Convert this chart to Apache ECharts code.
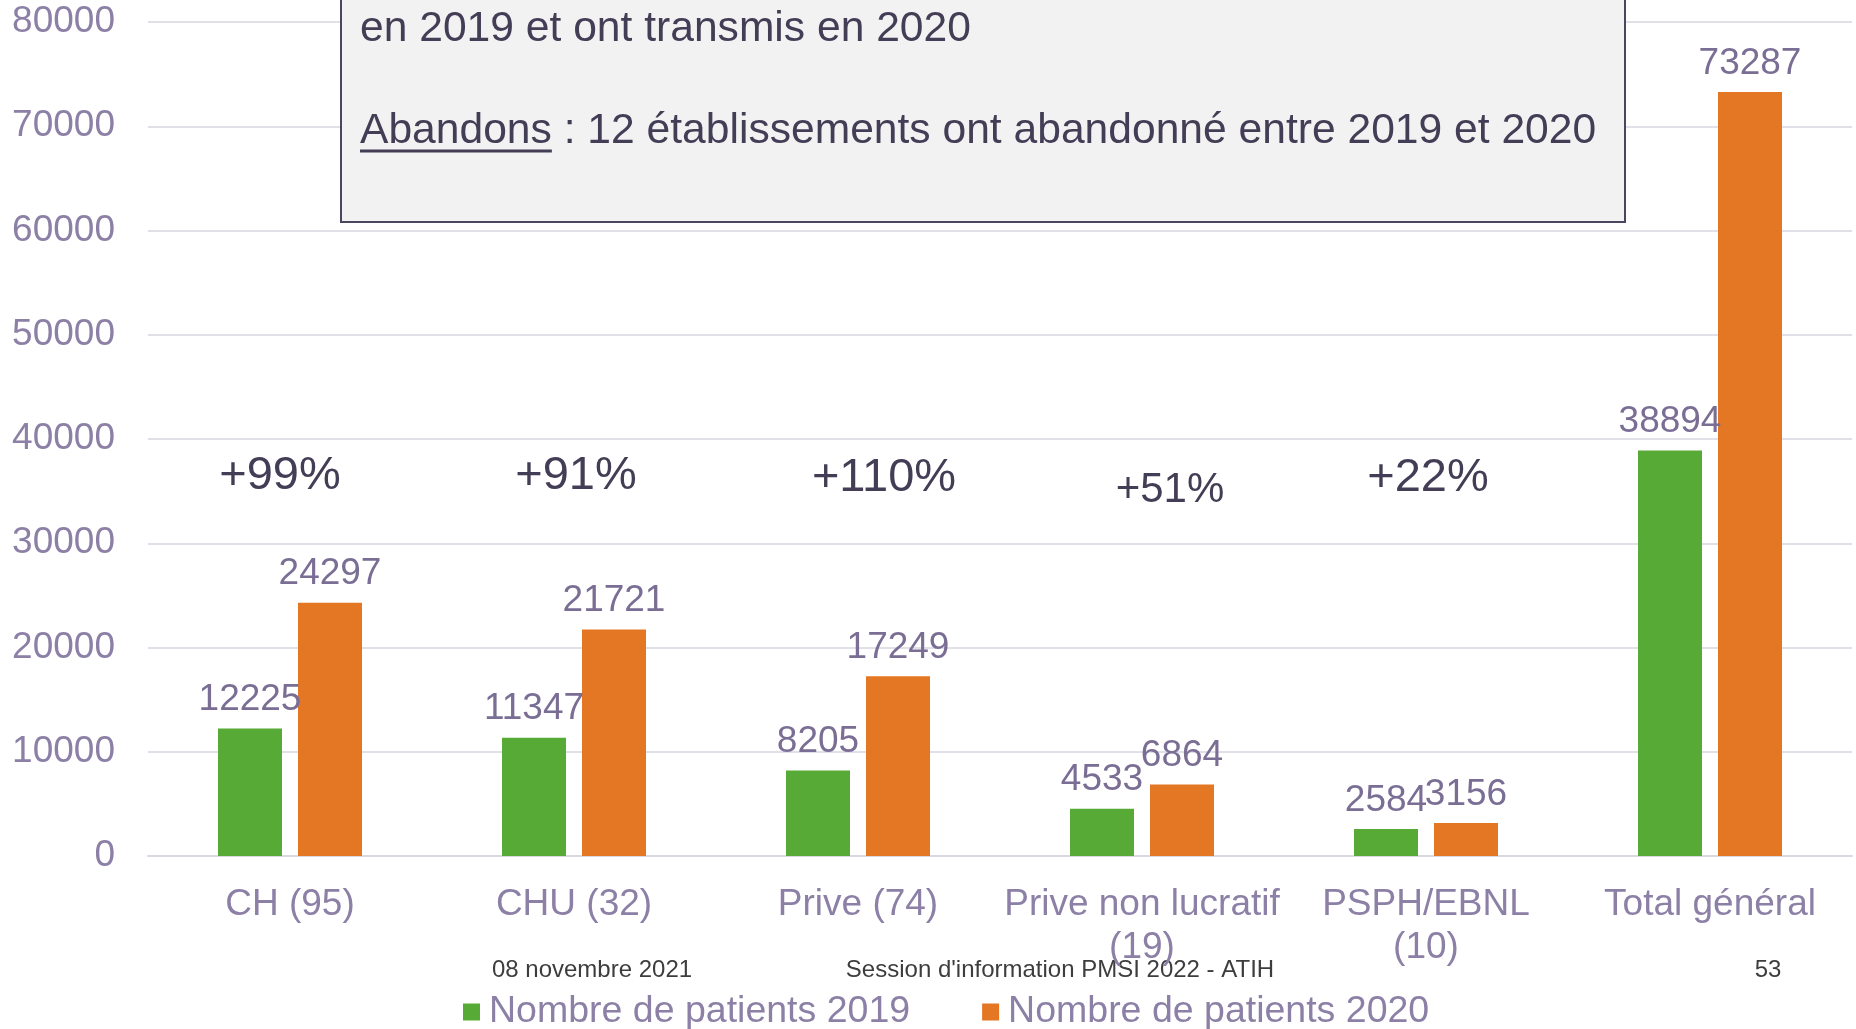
<!DOCTYPE html>
<html>
<head>
<meta charset="utf-8">
<title>Nombre de patients</title>
<script src="https://cdn.jsdelivr.net/npm/echarts@6/dist/echarts.min.js"></script>
<style>
  html, body { margin: 0; padding: 0; background: #fff; }
  #chart { width: 1856px; height: 1029px; }
</style>
</head>
<body>
<div id="chart"></div>
<script>
// categories and values
const categories = ['CH (95)', 'CHU (32)', 'Prive (74)', 'Prive non lucratif\n(19)', 'PSPH/EBNL\n(10)', 'Total général'];
const patients2019 = [12225, 11347, 8205, 4533, 2584, 38894];
const patients2020 = [24297, 21721, 17249, 6864, 3156, 73287];
const growthLabels = ['+99%', '+91%', '+110%', '+51%', '+22%'];
const yTicks = [0, 80000, 10000]; // min, max, interval

const FONT = '"Liberation Sans", Arial, sans-serif';
const axisColor = '#8c80a6';
const labelColor = '#7a6e95';
const darkText = '#443d56';

const chartDom = document.getElementById('chart');
const mychart = echarts.init(chartDom);

const option = {
  animation: false,
  textStyle: { fontFamily: FONT },
  color: ['#56aa35', '#e37724'],
  grid: {
    left: 148,
    right: 4,
    top: 22,
    bottom: 173,
    containLabel: false
  },
  legend: {
    bottom: -7,
    left: 458,
    icon: 'rect',
    itemWidth: 17,
    itemHeight: 17,
    itemGap: 72,
    textStyle: { color: axisColor, fontSize: 37.5, fontFamily: FONT, padding: [0, 0, 0, 4] }
  },
  xAxis: {
    type: 'category',
    data: categories,
    axisTick: { show: false },
    axisLine: { lineStyle: { color: '#d9d9e1', width: 2 } },
    axisLabel: {
      color: axisColor,
      fontSize: 37,
      fontFamily: FONT,
      margin: 27,
      lineHeight: 43,
      interval: 0
    }
  },
  yAxis: {
    type: 'value',
    min: yTicks[0],
    max: yTicks[1],
    interval: yTicks[2],
    axisLine: { show: false },
    axisTick: { show: false },
    axisLabel: {
      color: axisColor,
      fontSize: 37,
      fontFamily: FONT,
      margin: 33,
      formatter: (v) => String(v)
    },
    splitLine: { lineStyle: { color: '#e0e0e8', width: 2 } }
  },
  series: [
    {
      name: 'Nombre de patients 2019',
      type: 'bar',
      data: patients2019,
      barWidth: 64,
      barGap: '25%',
      label: {
        show: true,
        position: 'top',
        distance: 10,
        color: labelColor,
        fontSize: 37,
        fontFamily: FONT
      }
    },
    {
      name: 'Nombre de patients 2020',
      type: 'bar',
      data: patients2020,
      barWidth: 64,
      barGap: '25%',
      label: {
        show: true,
        position: 'top',
        distance: 10,
        color: labelColor,
        fontSize: 37,
        fontFamily: FONT
      }
    }
  ]
};
mychart.setOption(option, true);

// measure "Abandons" for the underline
const boxFont = 42.6;
const measureCtx = document.createElement('canvas').getContext('2d');
measureCtx.font = boxFont + 'px ' + FONT;
const abandonsWidth = measureCtx.measureText('Abandons').width;

// growth annotations above each group
const growthOffsets = [[-10, 476], [2, 476], [26, 478], [28, 490], [2, 478]];
const growthText = growthLabels.map((txt, i) => {
  const cx = mychart.convertToPixel({ xAxisIndex: 0 }, i);
  return {
    type: 'text',
    x: cx + growthOffsets[i][0],
    y: growthOffsets[i][1],
    style: {
      text: txt,
      fill: darkText,
      fontSize: i === 3 ? 42 : 47,
      fontFamily: FONT,
      align: 'center',
      verticalAlign: 'middle'
    }
  };
});

const footerStyle = { fill: '#3d3d3d', fontSize: 24, fontFamily: FONT, align: 'center', verticalAlign: 'middle' };

mychart.setOption({
  graphic: [
    {
      type: 'rect',
      shape: { x: 341, y: -60, width: 1284, height: 282 },
      style: { fill: '#f2f2f2', stroke: '#4b4560', lineWidth: 2 },
      z: 10
    },
    {
      type: 'text',
      x: 360,
      y: 29,
      style: {
        text: 'en 2019 et ont transmis en 2020',
        fill: darkText,
        fontSize: boxFont,
        fontFamily: FONT,
        verticalAlign: 'middle'
      },
      z: 11
    },
    {
      type: 'text',
      x: 360,
      y: 131,
      style: {
        text: 'Abandons : 12 établissements ont abandonné entre 2019 et 2020',
        fill: darkText,
        fontSize: boxFont,
        fontFamily: FONT,
        verticalAlign: 'middle'
      },
      z: 11
    },
    {
      type: 'line',
      shape: { x1: 360, y1: 151, x2: 360 + abandonsWidth, y2: 151 },
      style: { stroke: darkText, lineWidth: 3 },
      z: 11
    },
    ...growthText,
    { type: 'text', x: 592, y: 970, style: Object.assign({ text: '08 novembre 2021' }, footerStyle) },
    { type: 'text', x: 1060, y: 970, style: Object.assign({ text: "Session d'information PMSI 2022 - ATIH" }, footerStyle) },
    { type: 'text', x: 1768, y: 970, style: Object.assign({ text: '53' }, footerStyle) }
  ]
});

window.addEventListener('resize', () => {
  mychart.resize();
});
</script>
</body>
</html>
